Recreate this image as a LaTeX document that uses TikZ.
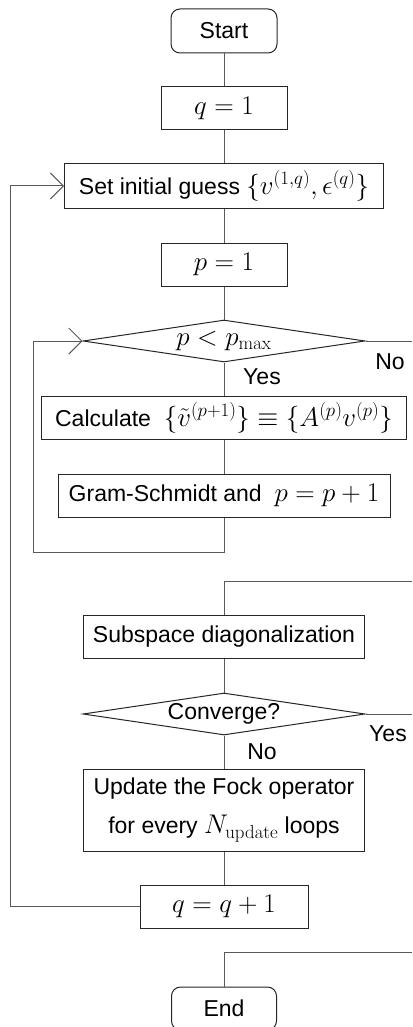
\RequirePackage{fix-cm}
\documentclass[tikz,border=0pt]{standalone}
\usepackage[no-math]{fontspec}
\setmainfont{Liberation Sans}[Scale=0.852]
\usetikzlibrary{arrows.meta,shapes.geometric}
\begin{document}
\begin{tikzpicture}[x=1pt,y=-1pt,
  font=\fontsize{27}{33}\selectfont,
  box/.style={draw=black!85, line width=1pt, rectangle, inner sep=0pt, minimum height=43pt, align=center},
  term/.style={box, rounded corners=9pt},
  dec/.style={draw=black!85, line width=1pt, diamond, aspect=6.7, inner sep=0pt, minimum width=282pt, minimum height=42pt},
  conn/.style={draw=black!65, line width=1pt},
  arr/.style={conn, -{Straight Barb[length=13pt,width=26pt,line width=1pt]}},
  lbl/.style={inner sep=0pt}
]
\clip (0,0) rectangle (412,1027);
\node[term, minimum width=106pt, minimum height=44pt] (start) at (224,31) {Start};
\node[box, minimum width=126pt] (q1) at (224,108.5) {$q=1$};
\node[box, minimum width=319pt, minimum height=44pt] (init) at (224,186) {Set initial guess $\{v^{(1,q)},\epsilon^{(q)}\}$};
\node[box, minimum width=126pt] (p1) at (224,264.5) {$p=1$};
\node[dec] (dec1) at (224,341) {$p<p_{\max}$};
\node[box, minimum width=365pt] (calc) at (224,418) {Calculate\ \ $\{\tilde v^{(p+1)}\}\equiv\{A^{(p)}v^{(p)}\}$};
\node[box, minimum width=332pt] (gs) at (224,495.5) {Gram-Schmidt and\ \ $p=p+1$};
\node[box, minimum width=281pt] (sub) at (224,637) {Subspace diagonalization};
\node[dec] (dec2) at (224,714) {Converge?};
\node[box, minimum width=281pt, minimum height=82pt, font=\fontsize{27}{39}\selectfont] (upd) at (224,810) {Update the Fock operator\\for every $N_{\mathrm{update}}$ loops};
\node[box, minimum width=168pt] (qinc) at (224,906.5) {$q=q+1$};
\node[term, minimum width=105pt] (endn) at (224,1008.5) {End};

\coordinate (outA) at (412,341);
\coordinate (outB) at (412,581);
\coordinate (outC) at (412,714);
\coordinate (outD) at (412,952);
\coordinate (lp1) at (33,552);
\coordinate (lp2) at (10,906.5);

\node[lbl] (no1) at (390,362) {No};
\node[lbl] (yes1) at (262,377) {Yes};
\node[lbl] (yes2) at (388,734) {Yes};
\node[lbl] (no2) at (262,752) {No};

\draw[conn] (start) -- (q1);
\draw[conn] (q1) -- (init);
\draw[conn] (init) -- (p1);
\draw[conn] (p1) -- (dec1.north);
\draw[conn] (dec1.south) -- (calc.north);
\draw[conn] (calc) -- (gs);
\draw[arr] (gs.south) |- (lp1) |- (dec1.west);
\draw[conn] (dec1.east) -- (outA);
\draw[conn] (outB) -| (sub.north);
\draw[conn] (sub) -- (dec2.north);
\draw[conn] (dec2.east) -- (outC);
\draw[conn] (dec2.south) -- (upd.north);
\draw[conn] (upd) -- (qinc);
\draw[arr] (qinc.west) -- (lp2) |- (init.west);
\draw[conn] (outD) -| (endn.north);
\end{tikzpicture}
\end{document}
